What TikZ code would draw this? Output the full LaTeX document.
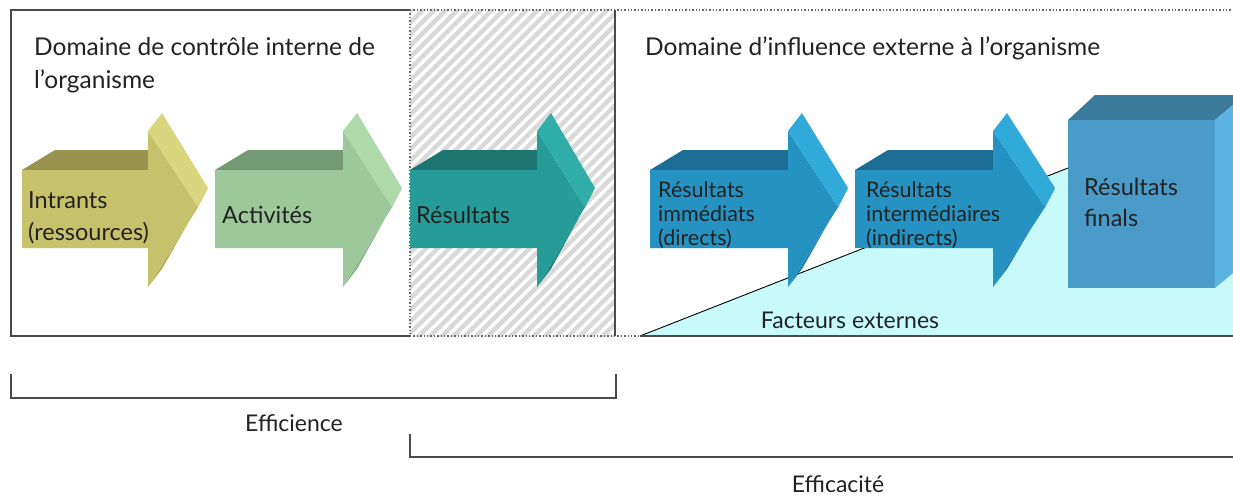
\documentclass[tikz,border=0pt]{standalone}
\usepackage{fontspec}
\setmainfont{Lato}
\definecolor{olfront}{HTML}{C6C26C}
\definecolor{oltop}{HTML}{98944F}
\definecolor{olside}{HTML}{D8D67E}
\definecolor{olsidetwo}{HTML}{B4B05C}
\definecolor{grfront}{HTML}{9CC89A}
\definecolor{grtop}{HTML}{739A72}
\definecolor{grside}{HTML}{AEDAAA}
\definecolor{grsidetwo}{HTML}{8AB888}
\definecolor{tlfront}{HTML}{279B97}
\definecolor{tltop}{HTML}{1D7572}
\definecolor{tlside}{HTML}{30ADA8}
\definecolor{tlsidetwo}{HTML}{1F8884}
\definecolor{blfront}{HTML}{2592C2}
\definecolor{bltop}{HTML}{1C6E94}
\definecolor{blside}{HTML}{31A9D9}
\definecolor{blsidetwo}{HTML}{1F80AE}
\definecolor{boxfront}{HTML}{4B9BC9}
\definecolor{boxtop}{HTML}{3B7A9A}
\definecolor{boxside}{HTML}{5AB3E0}
\definecolor{cyanfill}{HTML}{C8FAFA}
\definecolor{hatchgray}{HTML}{D9D9D9}
\definecolor{framegray}{HTML}{4A4A4A}
\definecolor{txt}{HTML}{222222}
\newcommand{\blockarrow}[4]{%
  \fill[#4top] (#1,170) -- ({#1+33},150) -- ({#2+14},150) -- (#2,170) -- cycle;
  \fill[#4sidetwo] ({#3-10},207) -- (#3,188) -- ({#2+14},269) -- (#2,287) -- cycle;
  \fill[#4front] (#1,170) -- (#2,170) -- (#2,131) -- ({#3-10},207) -- (#2,287) -- (#2,248) -- (#1,248) -- cycle;
  \fill[#4side] (#2,131) -- ({#2+14},113) -- (#3,188) -- ({#3-10},207) -- cycle;
}
\begin{document}
\begin{tikzpicture}[x=1pt,y=-1pt,
  boxline/.style={draw=framegray, line width=1.6pt},
  dotline/.style={draw=gray!80!black, line width=1.4pt, dotted},
  hatchline/.style={draw=hatchgray, line width=4.5pt},
  bracketline/.style={draw=framegray, line width=1.4pt},
  title/.style={anchor=base west, inner sep=0pt, text=txt, font=\fontsize{24.5}{29}\selectfont},
  big/.style={anchor=base west, inner sep=0pt, text=txt, font=\fontsize{23.5}{28}\selectfont},
  small/.style={anchor=base west, inner sep=0pt, text=txt, font=\fontsize{21.5}{25}\selectfont},
  lab/.style={anchor=base, inner sep=0pt, text=txt, font=\fontsize{23}{27}\selectfont}]
\useasboundingbox (0,0) rectangle (1233,495);
\fill[white] (0,0) rectangle (1233,495);
\begin{scope}
\clip (0,0) rectangle (1233,495);
% hatched zone
\begin{scope}
\clip (410,10) rectangle (615,336);
\foreach \i in {0,...,50} {\draw[hatchline] ({70+\i*11.5},340) -- ++(340,-340);}
\end{scope}
% frames
\draw[boxline] (410,10) -- (11,10) -- (11,336) -- (410,336);
\draw[dotline] (410,10) -- (410,336);
\draw[dotline] (410,10) -- (1233,10);
\draw[dotline] (410,336) -- (640,336);
\draw[boxline] (615,10) -- (615,336);
% external factors triangle
\coordinate (tA) at (640,336);
\coordinate (tB) at (1068,168);
\fill[cyanfill] (tA) -- (tB) -- (1233,160) -- (1233,336) -- cycle;
\draw[black, line width=0.9pt] (tA) -- (tB);
\draw[framegray, line width=1.4pt] (tA) -- (1233,336);
% arrows
\blockarrow{22}{148}{208}{ol}
\blockarrow{215}{343}{402}{gr}
\blockarrow{410}{537}{595}{tl}
\blockarrow{650}{788}{848}{bl}
\blockarrow{855}{993}{1055}{bl}
% final box
\fill[boxtop] (1068,120) -- (1095,95) -- (1245,95) -- (1215,120) -- cycle;
\fill[boxside] (1215,120) -- (1245,95) -- (1245,263) -- (1215,288) -- cycle;
\fill[boxfront] (1068,120) rectangle (1215,288);
\end{scope}
% titles
\node[title] (t1a) at (34,56) {Domaine de contrôle interne de};
\node[title] (t1b) at (34,88) {l’organisme};
\node[title] (t2) at (645,56) {Domaine d’influence externe à l’organisme};
% arrow labels
\node[big] (i1) at (28,208) {Intrants};
\node[big] (i2) at (28,240) {(ressources)};
\node[big] (act) at (222,223) {Activités};
\node[big] (res) at (416,223) {Résultats};
\node[small] (r4a) at (658,197) {Résultats};
\node[small] (r4b) at (658,221) {immédiats};
\node[small] (r4c) at (658,245) {(directs)};
\node[small] (r5a) at (866,197) {Résultats};
\node[small] (r5b) at (866,221) {intermédiaires};
\node[small] (r5c) at (866,245) {(indirects)};
\node[big] (f1) at (1084,195) {Résultats};
\node[big] (f2) at (1084,226) {finals};
\node[lab] (fe) at (850,328) {Facteurs externes};
% brackets
\coordinate (e1) at (11,374);
\coordinate (e2) at (11,398);
\coordinate (e3) at (616,398);
\coordinate (e4) at (616,374);
\draw[bracketline] (e1) -- (e2) -- (e3) -- (e4);
\node[lab] (eff) at (294,431) {Efficience};
\coordinate (c1) at (410,434);
\coordinate (c2) at (410,457);
\coordinate (c3) at (1233,457);
\draw[bracketline] (c1) -- (c2) -- (c3);
\node[lab] (efc) at (838,492) {Efficacité};
\end{tikzpicture}
\end{document}
